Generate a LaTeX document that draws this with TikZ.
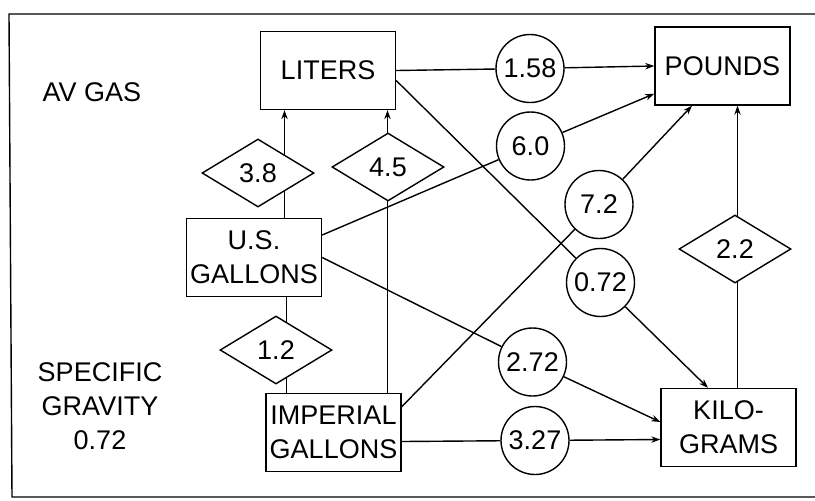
\documentclass[tikz,border=0pt]{standalone}
\usepackage{fontspec}
\setmainfont{Liberation Sans}
\usetikzlibrary{arrows.meta,shapes.geometric,calc,backgrounds}

\begin{document}
\begin{tikzpicture}[x=5pt,y=5pt,line width=0.7pt]
\tikzstyle{every node}+=[inner sep=1pt,font=\fontsize{13.5}{17}\selectfont,align=center]
\tikzstyle{unit}=[draw,rectangle,minimum width=67.5pt,minimum height=39pt]
\tikzstyle{factor}=[draw,circle,minimum size=34pt,fill=white]
\tikzstyle{ratio}=[draw,diamond,minimum width=56pt,minimum height=34pt,inner sep=0pt,fill=white]
\tikzstyle{arr}=[-{Stealth[length=4.5pt,width=3.2pt]}]
\useasboundingbox (0,0) rectangle (81.5,-50);
\draw (81.5,-1.4) -- (0.9,-1.4) -- (1.2,-49.7) -- (81.5,-49.7);
\node (avgas) at (9.2,-9.2) {AV GAS};
\node (spgrav) at (10.0,-40.6) {SPECIFIC\\GRAVITY\\0.72};
\node[unit] (liters) at (32.8,-7.05) {LITERS};
\node[unit] (pounds) at (72.25,-6.6) {POUNDS};
\node[unit] (usgal) at (25.4,-25.75) {U.S.\\GALLONS};
\node[unit] (impgal) at (33.35,-43.25) {IMPERIAL\\GALLONS};
\node[unit] (kilo) at (72.85,-42.75) {KILO-\\GRAMS};
\node[factor] (c158) at (53.0,-6.85) {1.58};
\node[factor] (c60) at (53.05,-14.6) {6.0};
\node[factor] (c72) at (59.9,-20.45) {7.2};
\node[factor] (c072) at (60.05,-28.25) {0.72};
\node[factor] (c272) at (53.25,-36.2) {2.72};
\node[factor] (c327) at (53.5,-44.05) {3.27};
\begin{scope}[on background layer]
\draw[arr] ($(usgal.north)+(3.05,0)$) coordinate (p38) -- (p38 |- liters.south);
\draw[arr] ($(impgal.north)+(5.4,0)$) coordinate (p45) -- (p45 |- liters.south);
\draw ($(impgal.north)+(-4.75,0)$) coordinate (p12) -- (p12 |- usgal.south);
\draw[arr] ($(kilo.north)+(0.9,0)$) coordinate (p22) -- (p22 |- pounds.south);
\end{scope}
\node[ratio] (d38) at (25.8,-17.3) {3.8};
\node[ratio] (d45) at (38.8,-16.7) {4.5};
\node[ratio] (d12) at (27.6,-35.0) {1.2};
\node[ratio] (d22) at (73.5,-24.9) {2.2};
\draw (liters.east) -- (c158);
\draw[arr] (c158) -- (pounds.west);
\draw ($(liters.east)+(0,-1.0)$) -- (c072);
\draw[arr] (c072) -- ($(kilo.north)+(-2.05,0)$);
\draw ($(usgal.east)+(0,2.25)$) -- (c60);
\draw[arr] (c60) -- ($(pounds.south west)+(0,1.2)$);
\draw (usgal.east) -- (c272);
\draw[arr] (c272) -- ($(kilo.west)+(0,0.55)$);
\draw ($(impgal.north east)+(0,-1.4)$) -- (c72);
\draw[arr] (c72) -- ($(pounds.south)+(-3.05,0)$);
\draw ($(impgal.east)+(0,-0.9)$) -- (c327);
\draw[arr] (c327) -- ($(kilo.west)+(0,-1.2)$);
\end{tikzpicture}
\end{document}
